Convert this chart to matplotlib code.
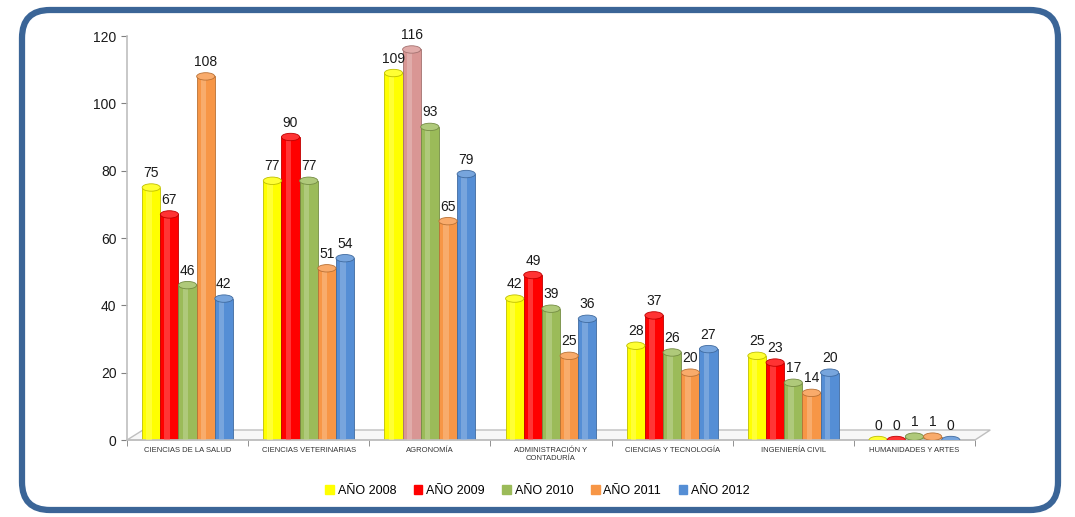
import matplotlib.pyplot as plt
import numpy as np
from matplotlib.patches import FancyBboxPatch, Ellipse, Polygon
from matplotlib.colors import to_rgb

plt.rcParams['font.family'] = ['Liberation Sans', 'DejaVu Sans']

# Estudiantes por programa académico y año
programas = ["CIENCIAS DE LA SALUD", "CIENCIAS VETERINARIAS", "AGRONOMÍA",
             "ADMINISTRACIÓN Y\nCONTADURÍA", "CIENCIAS Y TECNOLOGÍA",
             "INGENIERÍA CIVIL", "HUMANIDADES Y ARTES"]
anios = ["AÑO 2008", "AÑO 2009", "AÑO 2010", "AÑO 2011", "AÑO 2012"]
a2008 = [75, 77, 109, 42, 28, 25, 0]
a2009 = [67, 90, 116, 49, 37, 23, 0]
a2010 = [46, 77, 93, 39, 26, 17, 1]
a2011 = [108, 51, 65, 25, 20, 14, 1]
a2012 = [42, 54, 79, 36, 27, 20, 0]
series = [a2008, a2009, a2010, a2011, a2012]
colores = ["#FFFF00", "#FF0000", "#9BBB59", "#F79646", "#558ED5"]

fig = plt.figure(figsize=(10.75, 5.17), dpi=100)
ax = fig.add_axes([127 / 1075, 1 - 440 / 517, (975 - 127) / 1075, (440 - 36) / 517])

x = np.arange(len(programas))
ancho = 0.15


def oscuro(c, f=0.75):
    r, g, b = to_rgb(c)
    return (r * f, g * f, b * f)


def claro(c, f=0.35):
    r, g, b = to_rgb(c)
    return (r + (1 - r) * f, g + (1 - g) * f, b + (1 - b) * f)


# piso en perspectiva
piso = Polygon([(0, 0), (16 / 848, 10 / 404), (1.018, 10 / 404), (1.0, 0)],
               closed=True, transform=ax.transAxes, facecolor="#F7F7F7",
               edgecolor="#BFBFBF", lw=1, clip_on=False, zorder=0)
ax.add_patch(piso)

for i, (vals, col) in enumerate(zip(series, colores)):
    pos = x - 2 * ancho + i * ancho + 0.5
    cols = [col] * len(vals)
    if i == 1:
        cols[2] = "#D99694"  # barra de agronomía 2009
    for xp, v, c in zip(pos, vals, cols):
        ax.bar(xp, v, width=ancho, color=c, edgecolor=oscuro(c), lw=0.6, zorder=2)
        ax.bar(xp - ancho * 0.12, v, width=ancho * 0.3, color=claro(c), lw=0, zorder=3, alpha=0.6)
        ax.add_patch(Ellipse((xp, v), ancho, 2.2, facecolor=claro(c, 0.2),
                             edgecolor=oscuro(c), lw=0.6, zorder=4))
        ax.text(xp, v + 2.2, str(v), ha="center", va="bottom", fontsize=10,
                color="#1a1a1a", zorder=5)

ax.set_xlim(0, len(programas))
ax.set_ylim(0, 120)
ax.set_yticks(range(0, 121, 20))
ax.tick_params(axis="y", labelsize=10, colors="#808080", labelcolor="#1a1a1a", length=4)
ax.set_xticks(x + 0.5)
ax.set_xticklabels(programas, fontsize=5.5, color="#333333")
ax.set_xticks(np.arange(len(programas) + 1), minor=True)
ax.tick_params(axis="x", which="major", length=0, pad=5)
ax.tick_params(axis="x", which="minor", length=4, color="#808080")
for s in ["top", "right"]:
    ax.spines[s].set_visible(False)
ax.spines["left"].set_color("#BFBFBF")
ax.spines["bottom"].set_color("#BFBFBF")
ax.spines["left"].set_linewidth(1.2)
ax.spines["bottom"].set_linewidth(1.2)

handles = [plt.Rectangle((0, 0), 1, 1, color=c) for c in colores]
fig.legend(handles, anios, loc="center", bbox_to_anchor=(0.5, 1 - 491 / 517),
           ncol=5, frameon=False, fontsize=9, handlelength=0.7, handleheight=0.7,
           handletextpad=0.3, columnspacing=1.4)

# marco redondeado
marco = FancyBboxPatch((0.22, 0.07), 10.36, 5.00, boxstyle="round,pad=0,rounding_size=0.28",
                       transform=fig.dpi_scale_trans, facecolor="none",
                       edgecolor="#3B6597", lw=4.5, zorder=10)
fig.patches.append(marco)

fig.savefig("out.png", dpi=100)
